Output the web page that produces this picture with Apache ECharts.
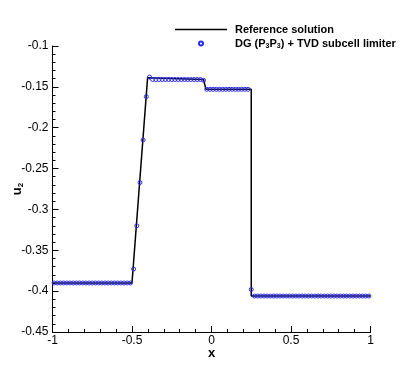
<!DOCTYPE html>
<html>
<head>
<meta charset="utf-8">
<script src="https://cdn.jsdelivr.net/npm/echarts@6/dist/echarts.min.js"></script>
<style>
  html, body { margin: 0; padding: 0; background: #fff; }
  #main { width: 419px; height: 372px; }
</style>
</head>
<body>
<div id="main"></div>
<script>
// reference solution (black line)
const refX = [-1, -0.5, -0.402, -0.39, -0.05, -0.035, 0.25, 0.25, 1];
const refU = [-0.39, -0.39, -0.139, -0.141, -0.141, -0.153, -0.153, -0.406, -0.406];

// DG (P3P3) + TVD subcell limiter, cell values
const dgX = [
  -0.99, -0.97, -0.95, -0.93, -0.91, -0.89, -0.87, -0.85, -0.83, -0.81,
  -0.79, -0.77, -0.75, -0.73, -0.71, -0.69, -0.67, -0.65, -0.63, -0.61,
  -0.59, -0.57, -0.55, -0.53, -0.51,
  -0.49, -0.47, -0.45, -0.43, -0.41,
  -0.39, -0.37, -0.35, -0.33, -0.31, -0.29, -0.27, -0.25, -0.23, -0.21,
  -0.19, -0.17, -0.15, -0.13, -0.11, -0.09, -0.07, -0.05,
  -0.03, -0.01, 0.01, 0.03, 0.05, 0.07, 0.09, 0.11, 0.13, 0.15,
  0.17, 0.19, 0.21, 0.23,
  0.25,
  0.27, 0.29, 0.31, 0.33, 0.35, 0.37, 0.39, 0.41, 0.43, 0.45,
  0.47, 0.49, 0.51, 0.53, 0.55, 0.57, 0.59, 0.61, 0.63, 0.65,
  0.67, 0.69, 0.71, 0.73, 0.75, 0.77, 0.79, 0.81, 0.83, 0.85,
  0.87, 0.89, 0.91, 0.93, 0.95, 0.97, 0.99
];
const dgU = [
  -0.39, -0.39, -0.39, -0.39, -0.39, -0.39, -0.39, -0.39, -0.39, -0.39,
  -0.39, -0.39, -0.39, -0.39, -0.39, -0.39, -0.39, -0.39, -0.39, -0.39,
  -0.39, -0.39, -0.39, -0.39, -0.39,
  -0.373, -0.32, -0.267, -0.215, -0.162,
  -0.138, -0.141, -0.141, -0.141, -0.141, -0.141, -0.141, -0.141, -0.141, -0.141,
  -0.141, -0.141, -0.141, -0.141, -0.141, -0.141, -0.141, -0.142,
  -0.153, -0.153, -0.153, -0.153, -0.153, -0.153, -0.153, -0.153, -0.153, -0.153,
  -0.153, -0.153, -0.153, -0.153,
  -0.398,
  -0.406, -0.406, -0.406, -0.406, -0.406, -0.406, -0.406, -0.406, -0.406, -0.406,
  -0.406, -0.406, -0.406, -0.406, -0.406, -0.406, -0.406, -0.406, -0.406, -0.406,
  -0.406, -0.406, -0.406, -0.406, -0.406, -0.406, -0.406, -0.406, -0.406, -0.406,
  -0.406, -0.406, -0.406, -0.406, -0.406, -0.406, -0.406
];

const refName = 'Reference solution';
const dgName = 'DG (P3P3) + TVD subcell limiter';
const font = 'Liberation Sans, Arial, sans-serif';
const blue = '#2a2aff';

const chart = echarts.init(document.getElementById('main'));

const axisCommon = {
  axisLine: { onZero: false, lineStyle: { color: '#000', width: 1 } },
  axisTick: { inside: true, length: 6, lineStyle: { color: '#000' } },
  minorTick: { show: true, splitNumber: 5, length: 3, lineStyle: { color: '#000' } },
  splitLine: { show: false },
  axisLabel: { color: '#000', fontSize: 12, fontFamily: font }
};

chart.setOption({
  animation: false,
  grid: { left: 52.5, right: 48.5, top: 46, bottom: 40, outerBoundsMode: 'none', containLabel: false },
  legend: {
    orient: 'vertical',
    left: 175,
    top: 24,
    padding: 0,
    itemWidth: 52,
    itemHeight: 4,
    itemGap: 3,
    data: [
      { name: refName, icon: 'path://M0,0H52V1.5H0Z' },
      { name: dgName, icon: 'circle' }
    ],
    textStyle: {
      color: '#000', fontSize: 11, fontWeight: 'bold', fontFamily: font, padding: [0, 0, 0, 3],
      rich: {
        b: { fontSize: 11, fontWeight: 'bold', fontFamily: font, color: '#000' },
        s: { fontSize: 7, fontWeight: 'bold', fontFamily: font, color: '#000', padding: [6, 0, 0, 0] }
      }
    },
    formatter: function (name) {
      if (name === dgName) return '{b|DG (P}{s|3}{b|P}{s|3}{b|) + TVD subcell limiter}';
      return name;
    }
  },
  xAxis: Object.assign({}, axisCommon, {
    type: 'value', min: -1, max: 1, interval: 0.5,
    axisLabel: Object.assign({}, axisCommon.axisLabel, { margin: 3 }),
    name: 'x', nameLocation: 'middle', nameGap: 15, nameMoveOverlap: false,
    nameTextStyle: { color: '#000', fontSize: 13, fontWeight: 'bold', fontFamily: font }
  }),
  yAxis: Object.assign({}, axisCommon, {
    type: 'value', min: -0.45, max: -0.1, interval: 0.05,
    axisLabel: Object.assign({}, axisCommon.axisLabel, { margin: 4 }),
    name: '{b|u}{s|2}', nameLocation: 'middle', nameGap: 28, nameRotate: 90, nameMoveOverlap: false,
    nameTextStyle: {
      color: '#000', fontFamily: font,
      rich: {
        b: { fontSize: 13, fontWeight: 'bold', fontFamily: font, color: '#000' },
        s: { fontSize: 8, fontWeight: 'bold', fontFamily: font, color: '#000', padding: [7, 0, 0, 0] }
      }
    }
  }),
  series: [
    {
      name: refName,
      type: 'line',
      data: refX.map((x, i) => [x, refU[i]]),
      symbol: 'none',
      color: '#000',
      lineStyle: { color: '#000', width: 1.5 },
      z: 2
    },
    {
      name: dgName,
      type: 'line',
      data: dgX.map((x, i) => [x, dgU[i]]),
      symbol: 'circle',
      symbolSize: 4,
      showAllSymbol: true,
      color: blue,
      itemStyle: { color: 'rgba(255,255,255,0)', borderColor: blue, borderWidth: 1 },
      lineStyle: { width: 0, opacity: 0 },
      z: 3
    }
  ]
});
</script>
</body>
</html>
